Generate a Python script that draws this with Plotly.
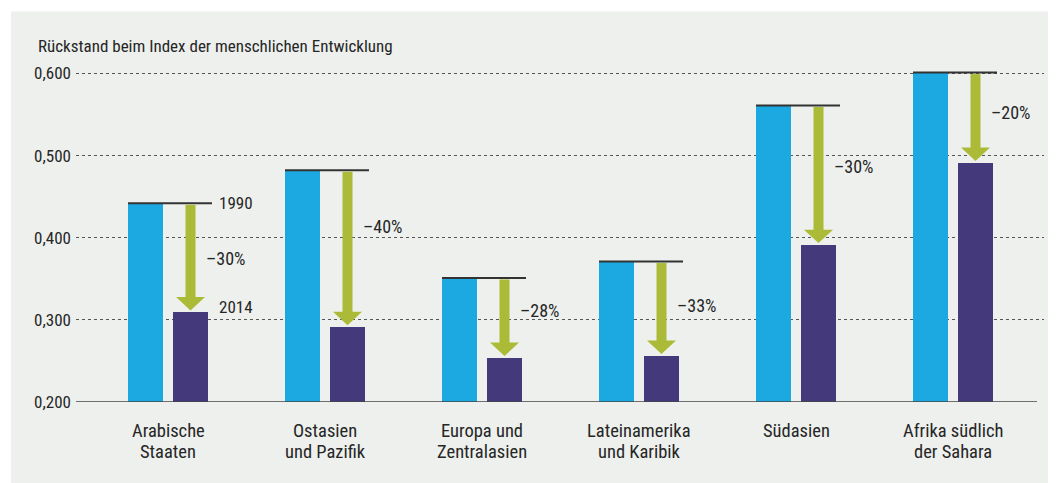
import plotly.graph_objects as go

categories = ["Arabische<br>Staaten", "Ostasien<br>und Pazifik", "Europa und<br>Zentralasien",
              "Lateinamerika<br>und Karibik", "Südasien", "Afrika südlich<br>der Sahara"]
values_1990 = [0.442, 0.482, 0.351, 0.371, 0.561, 0.601]
values_2014 = [0.309, 0.291, 0.2535, 0.256, 0.391, 0.491]
changes = ["–30%", "–40%", "–28%", "–33%", "–30%", "–20%"]
y_ticks = [0.2, 0.3, 0.4, 0.5, 0.6]
y_ticktext = ["0,200", "0,300", "0,400", "0,500", "0,600"]
title_text = "Rückstand beim Index der menschlichen Entwicklung"

# layout / style constants (page body has an 8px margin, so positions are shifted by -8)
FONT = "Liberation Sans Narrow, Roboto Condensed, Arial Narrow, DejaVu Sans Condensed, sans-serif"
BLUE = "#1ca9e1"
PURPLE = "#43397b"
GREEN = "#abbb37"
PANEL = "#edf0ed"
TXT = "#262626"
label_frac = [0.51, 0.36, 0.40, 0.47, 0.44, 0.44]

S = 8
W, H = 1056 - S, 483 - S
L, R = 76 - S, 1044 - S
T, B = 56.5 - S, 402 - S
unit = 157.0
x0 = -(168 - S - L) / unit
x1 = x0 + (R - L) / unit
ymin, ymax = 0.2, 0.62
ypx = (B - T) / (ymax - ymin)

off = 22.5 / unit
bw = 35 / unit
xs = list(range(len(categories)))

fig = go.Figure()
fig.add_trace(go.Bar(x=[i - off for i in xs], y=values_1990, width=bw,
                     marker=dict(color=BLUE, line=dict(width=0)), showlegend=False, hoverinfo="skip"))
fig.add_trace(go.Bar(x=[i + off for i in xs], y=values_2014, width=bw,
                     marker=dict(color=PURPLE, line=dict(width=0)), showlegend=False, hoverinfo="skip"))

shapes = []
annotations = []
# panel background
shapes.append(dict(type="rect", xref="paper", yref="paper", layer="below",
                   x0=-(L - (11 - S)) / (R - L), x1=(W + 5 - L) / (R - L),
                   y0=-(H + 5 - B) / (B - T), y1=(B - (11 - S)) / (B - T),
                   fillcolor=PANEL, line=dict(width=0)))
# baseline
shapes.append(dict(type="line", xref="paper", yref="y", x0=0, x1=(1037 - S - L) / (R - L),
                   y0=0.2, y1=0.2, line=dict(color="#444444", width=1.5), layer="above"))

shaft = 10 / unit / 2
headw = 29 / unit / 2
headh = 13.5 / ypx
gap = 2 / ypx
for i, (v0, v1, ch, fr) in enumerate(zip(values_1990, values_2014, changes, label_frac)):
    cx = i + off
    # 1990 reference line
    shapes.append(dict(type="line", xref="x", yref="y", x0=i - 40 / unit, x1=i + 44 / unit,
                       y0=v0, y1=v0, line=dict(color="#333333", width=2), layer="above"))
    tip = v1 + gap
    htop = tip + headh
    shapes.append(dict(type="rect", xref="x", yref="y", x0=cx - shaft, x1=cx + shaft,
                       y0=htop - 0.001, y1=v0 - 1.5 / ypx, fillcolor=GREEN, line=dict(width=0), layer="above"))
    shapes.append(dict(type="path", xref="x", yref="y",
                       path=f"M {cx - headw},{htop} L {cx + headw},{htop} L {cx},{tip} Z",
                       fillcolor=GREEN, line=dict(width=0), layer="above"))
    ly = v0 - fr * (v0 - v1)
    annotations.append(dict(x=i + 36 / unit, y=ly, xref="x", yref="y", text=ch, showarrow=False,
                            xanchor="left", yanchor="middle", font=dict(size=18, color=TXT, family=FONT)))
    for k, line in enumerate(categories[i].split("<br>")):
        annotations.append(dict(x=i, y=0.2, xref="x", yref="y", yshift=-(28.5 + 21 * k), text=line,
                                showarrow=False, xanchor="center", yanchor="middle",
                                font=dict(size=18.5, color=TXT, family=FONT)))

annotations.append(dict(x=49 / unit, y=values_1990[0], xref="x", yref="y",
                        text="1990", showarrow=False, xanchor="left", yanchor="middle",
                        font=dict(size=17, color=TXT, family=FONT)))
annotations.append(dict(x=49 / unit, y=values_2014[0] + 5 / ypx, xref="x", yref="y",
                        text="2014", showarrow=False, xanchor="left", yanchor="middle",
                        font=dict(size=17, color=TXT, family=FONT)))
annotations.append(dict(x=(36 - S - L) / (R - L), y=(B - (45 - S)) / (B - T), xref="paper", yref="paper",
                        text=title_text, showarrow=False, xanchor="left", yanchor="middle",
                        font=dict(size=17, color=TXT, family=FONT)))

fig.update_layout(
    width=W, height=H,
    margin=dict(l=L, r=W - R, t=T, b=H - B, pad=0),
    paper_bgcolor="white", plot_bgcolor="rgba(0,0,0,0)",
    shapes=shapes, annotations=annotations,
    bargap=0, showlegend=False,
    font=dict(family=FONT, color=TXT),
    xaxis=dict(range=[x0, x1], showticklabels=False, showgrid=False, zeroline=False,
               showline=False, ticks="", fixedrange=True),
    yaxis=dict(range=[ymin, ymax], tickvals=y_ticks, ticktext=y_ticktext,
               showgrid=True, gridcolor="#555555", gridwidth=1, griddash="dot",
               zeroline=False, showline=False, ticks="", ticklabelstandoff=4,
               tickfont=dict(size=17, color=TXT, family=FONT), fixedrange=True),
)

fig.write_html("out.html")
